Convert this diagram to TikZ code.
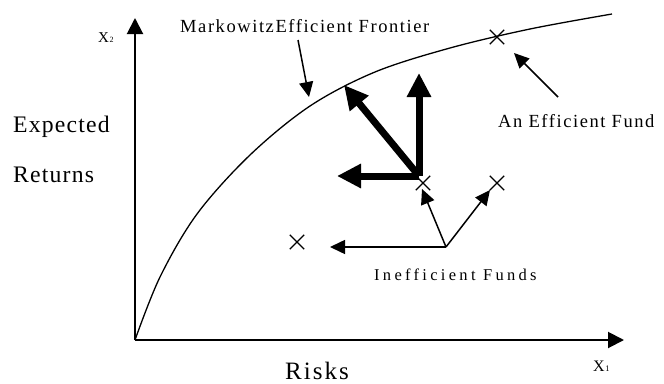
\documentclass[tikz,border=0pt]{standalone}
\usepackage{fontspec}
\setmainfont{Liberation Serif}
\newfontfamily\spA[LetterSpace=8.5]{Liberation Serif}
\newfontfamily\spB[LetterSpace=20]{Liberation Serif}
\newfontfamily\spC[LetterSpace=5]{Liberation Serif}
\newfontfamily\spD[LetterSpace=8]{Liberation Serif}
\usetikzlibrary{arrows.meta,shapes.misc}
\begin{document}
\begin{tikzpicture}[x=1pt,y=-1pt,
  axis/.style={line width=2pt,-{Triangle[length=16pt,width=16pt]}},
  thinarr/.style={line width=1.5pt,-{Triangle[length=15pt,width=14pt]}},
  thickarr/.style={line width=7pt,-{Triangle[length=24pt,width=23pt]}},
  fund/.style={cross out,draw,line width=1.4pt,minimum size=13pt,inner sep=0pt},
  lbl/.style={anchor=base west,inner sep=0pt}]
\useasboundingbox (0,0) rectangle (664,383);
% axes
\coordinate (O) at (135,340);
\coordinate (ytip) at (135,18);
\coordinate (xtip) at (624,340);
\draw[axis] (O) -- (ytip);
\draw[axis] (O) -- (xtip);
% frontier
\draw[line width=1.3pt] plot[smooth,tension=0.55] coordinates {(135,340) (160,277) (197,214) (250,155) (310,106) (375,72) (450,48) (530,29) (612,14)};
% funds
\node[fund] (eff) at (497,37) {};
\node[fund] (f1) at (423,183) {};
\node[fund] (f2) at (497,183) {};
\node[fund] (f3) at (297,242) {};
% labels
\node[lbl] (x2) at (98,42) {\fontsize{15}{15}\selectfont X\kern0.5pt{\fontsize{8}{8}\selectfont 2}};
\node[lbl] (x1) at (593,371) {\fontsize{16}{16}\selectfont X\kern0.5pt{\fontsize{8.5}{8.5}\selectfont 1}};
\node[lbl] (mk) at (180,32) {\spA\fontsize{18.5}{20}\selectfont MarkowitzEfficient Frontier};
\node[lbl] (ef) at (498,127) {\spA\fontsize{18.5}{20}\selectfont An Efficient Fund};
\node[lbl] (ex) at (13,132) {\spC\fontsize{23.7}{26}\selectfont Expected};
\node[lbl] (re) at (13,182) {\spC\fontsize{23.7}{26}\selectfont Returns};
\node[lbl] (ri) at (285,379) {\spD\fontsize{25}{27}\selectfont Risks};
\node[lbl] (in) at (374,280) {\spB\fontsize{16.5}{18}\selectfont Inefficient Funds};
% label arrows
\coordinate (mkA) at (298,40);
\coordinate (mkB) at (309,97);
\draw[thinarr] (mkA) -- (mkB);
\coordinate (efA) at (558,97);
\coordinate (efB) at (514,53);
\draw[thinarr] (efA) -- (efB);
\coordinate (K) at (446,247);
\coordinate (k1) at (422,189);
\coordinate (k2) at (490,190);
\coordinate (k3) at (330,247);
\draw[thinarr] (K) -- (k1);
\draw[thinarr] (K) -- (k2);
\draw[thinarr] (K) -- (k3);
% thick arrows
\coordinate (J) at (419,176);
\coordinate (jup) at (419,73);
\coordinate (jleft) at (337,176);
\coordinate (jdiag) at (344,85);
\draw[thickarr] (J) -- (jup);
\draw[thickarr] (J) -- (jleft);
\draw[thickarr] (J) -- (jdiag);
\end{tikzpicture}
\end{document}
